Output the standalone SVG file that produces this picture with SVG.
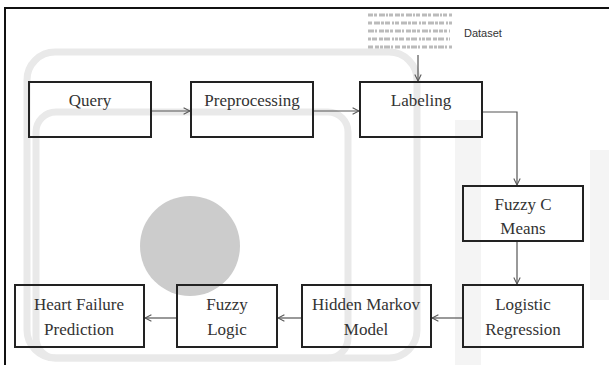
<svg xmlns="http://www.w3.org/2000/svg" width="609" height="365" viewBox="0 0 609 365">
<defs>
<marker id="arr" viewBox="0 0 10 10" refX="9" refY="5" markerWidth="8" markerHeight="8" markerUnits="userSpaceOnUse" orient="auto">
<path d="M1,1 L9,5 L1,9" fill="none" stroke="#555" stroke-width="1.3"/>
</marker>
<style>
.box{fill:none;stroke:#222;stroke-width:2}
.lbl{font-size:17px;fill:#333;text-anchor:middle}
.con{fill:none;stroke:#555;stroke-width:1.2;marker-end:url(#arr)}
.wm{fill:none;stroke:#e9e9e9;stroke-width:7}
.tx{stroke:#bbb;stroke-width:3}
</style>
</defs>
<rect width="609" height="365" fill="#fff"/>
<g id="watermark">
<rect x="455" y="120" width="26" height="245" fill="#f4f4f4"/>
<rect x="590" y="150" width="19" height="150" fill="#f4f4f4"/>
<rect x="27" y="52" width="390" height="306" rx="28" class="wm"/>
<rect x="36" y="112" width="312" height="246" rx="20" class="wm" stroke="#eeeeee"/>
<circle cx="190" cy="246" r="50" fill="#cccccc"/>
</g>
<g id="frame" fill="none" stroke="#111" stroke-width="2">
<path d="M5,365 V8 H609"/>
</g>
<g id="dataset-image">
<line class="tx" x1="368" y1="15" x2="452" y2="15" stroke-dasharray="5 1 3 2 6 1 2 1 4 2"/>
<line class="tx" x1="368" y1="23" x2="452" y2="23" stroke-dasharray="4 2 6 1 3 1 5 2 2 1"/>
<line class="tx" x1="368" y1="31" x2="450" y2="31" stroke-dasharray="6 1 2 2 5 1 4 1 3 2"/>
<line class="tx" x1="368" y1="39" x2="450" y2="39" stroke-dasharray="3 1 5 2 4 1 6 2 2 1"/>
<line class="tx" x1="368" y1="47" x2="452" y2="47" stroke-dasharray="5 2 4 1 3 1 6 1 2 2"/>
</g>
<g id="dataset-label">
<text x="464" y="37" font-family="'Liberation Sans', Arial, sans-serif" font-size="11" fill="#333">Dataset</text>
</g>
<g id="connectors">
<line class="con" x1="151" y1="111" x2="190" y2="111"/>
<line class="con" x1="313" y1="111" x2="359" y2="111"/>
<line class="con" x1="418" y1="55" x2="418" y2="81"/>
<polyline class="con" points="482,112 517,112 517,185"/>
<line class="con" x1="517" y1="241" x2="517" y2="284"/>
<line class="con" x1="463" y1="318" x2="432" y2="318"/>
<line class="con" x1="302" y1="318" x2="278" y2="318"/>
<line class="con" x1="177" y1="318" x2="145" y2="318"/>
</g>
<g font-family="'Liberation Serif', 'Times New Roman', 'DejaVu Serif', serif">
<g id="query"><rect class="box" x="29" y="82" width="122" height="55"/><text class="lbl" x="90" y="106">Query</text></g>
<g id="preprocessing"><rect class="box" x="191" y="82" width="122" height="55"/><text class="lbl" x="252" y="106">Preprocessing</text></g>
<g id="labeling"><rect class="box" x="360" y="82" width="122" height="55"/><text class="lbl" x="421" y="106">Labeling</text></g>
<g id="fuzzy-c-means"><rect class="box" x="463" y="186" width="120" height="55"/><text class="lbl" x="523" y="210">Fuzzy C</text><text class="lbl" x="523" y="234">Means</text></g>
<g id="logistic-regression"><rect class="box" x="463" y="285" width="120" height="62"/><text class="lbl" x="523" y="310">Logistic</text><text class="lbl" x="523" y="335">Regression</text></g>
<g id="hidden-markov-model"><rect class="box" x="302" y="285" width="129" height="62"/><text class="lbl" x="366" y="310">Hidden Markov</text><text class="lbl" x="366" y="335">Model</text></g>
<g id="fuzzy-logic"><rect class="box" x="177" y="285" width="100" height="62"/><text class="lbl" x="227" y="310">Fuzzy</text><text class="lbl" x="227" y="335">Logic</text></g>
<g id="heart-failure-prediction"><rect class="box" x="15" y="285" width="129" height="62"/><text class="lbl" x="79" y="310">Heart Failure</text><text class="lbl" x="79" y="335">Prediction</text></g>
</g>
</svg>
